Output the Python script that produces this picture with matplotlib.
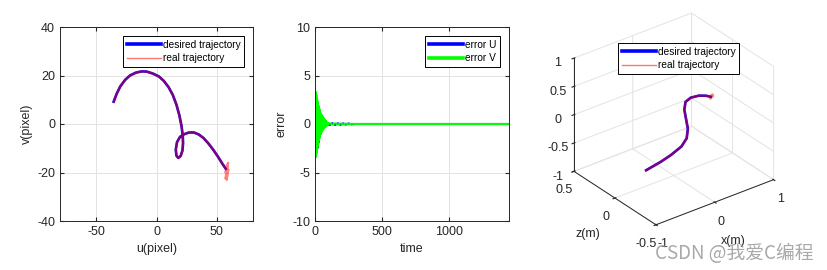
import numpy as np
import matplotlib
matplotlib.use("Agg")
import matplotlib.pyplot as plt
from matplotlib.ticker import FormatStrFormatter

plt.rcParams['font.family'] = ['Liberation Sans', 'DejaVu Sans']
plt.rcParams['font.size'] = 9
plt.rcParams['axes.unicode_minus'] = False

# ---- panel 1: image-plane trajectory (pixel) ----
u_des = [-35.5, -33, -30, -26, -22, -17, -12, -8, -3, 2, 6, 10, 13.5, 16.5, 19, 20.8,
         21.8, 22, 21.5, 20, 18, 16.5, 16, 17, 19.5, 23, 27, 31, 35, 39, 43, 47, 51, 54.5, 57.5]
v_des = [9.2, 12.5, 15.5, 18.2, 20, 21.2, 21.7, 21.6, 20.8, 19.6, 17.8, 15.2, 12, 8, 3.5, -1,
         -5, -8, -11, -13.2, -14, -13, -10.5, -7.5, -5.3, -4.2, -3.5, -3.5, -4.3, -5.8, -8, -10.6,
         -13.5, -16.3, -18.5]
# jitter of the real trajectory around the end point
u_tail = [59.5, 57, 59.8, 57.2, 58.8, 57.6, 59.2, 58.3, 58]
v_tail = [-16, -20, -18.8, -22.5, -17.5, -21, -19.5, -23, -20]
u_real = u_des + u_tail
v_real = v_des + v_tail

# ---- panel 2: tracking error ----
t_early = list(np.arange(0, 102, 2))
err_v_early = [0, 3.4, -3.3, 3.2, -3.4, 3.0, -3.0, 2.7, -2.6, 2.4, -2.3, 2.1, -2.0, 1.9, -1.7,
               1.7, -1.5, 1.5, -1.3, 1.3, -1.1, 1.1, -1.0, 1.0, -0.85, 0.9, -0.75, 0.8, -0.65,
               0.7, -0.55, 0.65, -0.5, 0.55, -0.4, 0.45, -0.35, 0.4, -0.3, 0.35, -0.25, 0.3,
               -0.2, 0.2, -0.15, 0.15, -0.1, 0.1, -0.08, 0.06, 0.0]
err_u_early = [0, -0.5, 0.4, -1.2, 0.8, -1.8, 0.9, -2.1, 0.8, -2.3, 0.7, -2.4, 0.8, -1.9, 0.9,
               -1.6, 0.8, -1.3, 0.7, -1.1, 0.6, -0.9, 0.5, -0.7, 0.45, -0.6, 0.4, -0.5, 0.35,
               -0.4, 0.3, -0.35, 0.25, -0.3, 0.2, -0.25, 0.15, -0.2, 0.12, -0.15, 0.1, -0.12,
               0.08, -0.1, 0.06, -0.08, 0.05, -0.05, 0.03, -0.03, 0.0]
t_late = [110, 130, 150, 170, 190, 210, 230, 250, 270, 300, 1450]
err_v_late = [0.08, -0.06, 0.07, -0.05, 0.06, -0.05, 0.04, -0.03, 0.02, 0.0, 0.0]
err_u_late = [-0.1, 0.08, -0.09, 0.07, -0.08, 0.06, -0.06, 0.05, -0.03, 0.0, 0.0]
t_err = t_early + t_late
err_u = err_u_early + err_u_late
err_v = err_v_early + err_v_late

# ---- panel 3: 3D trajectory (m) ----
x_des = [-0.47, -0.37, -0.22, -0.05, 0.13, 0.22, 0.24, 0.21, 0.18, 0.2, 0.29, 0.43, 0.55, 0.63]
y_des = [0.0] * 14
z_des = [-0.72, -0.7, -0.67, -0.62, -0.54, -0.43, -0.27, -0.09, 0.09, 0.22, 0.26, 0.24, 0.19, 0.14]
x_real = x_des + [0.66, 0.62, 0.67, 0.63]
y_real = y_des + [0.0, 0.0, 0.0, 0.0]
z_real = z_des + [0.17, 0.11, 0.14, 0.16]

GRID = '#e3e3e3'
AXC = '#262626'


def style2d(ax):
    ax.grid(True, color=GRID, linewidth=0.7)
    ax.set_axisbelow(True)
    ax.tick_params(direction='in', length=3, top=True, right=True, colors=AXC, labelsize=9)
    for s in ax.spines.values():
        s.set_color(AXC)
        s.set_linewidth(0.7)


def leg(ax, **kw):
    lg = ax.legend(fontsize=7.3, fancybox=False, framealpha=1, edgecolor='black',
                   handlelength=3.4, handletextpad=0.15, borderpad=0.35, labelspacing=0.35,
                   **kw)
    lg.get_frame().set_linewidth(0.7)
    return lg


def fix_real_handle(lg):
    # thin light-red line for the "real trajectory" entry
    hl = lg.get_lines()
    hl[0].set_linewidth(2.6)
    hl[1].set_linewidth(1.0)
    hl[1].set_alpha(0.55)


fig = plt.figure(figsize=(8.27, 2.70), dpi=100)

ax1 = fig.add_axes([60 / 827, 1 - 221 / 270, 193 / 827, 194 / 270])
ax1.plot(u_des, v_des, color='blue', linewidth=1.9, label='desired trajectory')
ax1.plot(u_real, v_real, color='red', linewidth=1.6, alpha=0.5, label='real trajectory')
ax1.set_xlim(-80, 80)
ax1.set_ylim(-40, 40)
ax1.set_xticks([-50, 0, 50])
ax1.set_yticks([-40, -20, 0, 20, 40])
ax1.set_xlabel('u(pixel)', color=AXC, labelpad=4)
ax1.set_ylabel('v(pixel)', color=AXC, labelpad=3)
style2d(ax1)
fix_real_handle(leg(ax1, loc='upper right', borderaxespad=0.9))

ax2 = fig.add_axes([315 / 827, 1 - 221 / 270, 194 / 827, 194 / 270])
ax2.plot(t_err, err_u, color='blue', linewidth=1.5, label='error U')
ax2.plot(t_err, err_v, color=(0, 1, 0), linewidth=1.5, label='error V')
ax2.set_xlim(0, 1450)
ax2.set_ylim(-10, 10)
ax2.set_xticks([0, 500, 1000])
ax2.set_yticks([-10, -5, 0, 5, 10])
ax2.set_xlabel('time', color=AXC, labelpad=4)
ax2.set_ylabel('error', color=AXC, labelpad=3)
style2d(ax2)
lg2 = leg(ax2, loc='upper right', borderaxespad=0.9)
for h in lg2.get_lines():
    h.set_linewidth(2.6)

ax3 = fig.add_axes([0.6584, 0.118, 0.305, 0.86], projection='3d')
ax3.set_proj_type('ortho')
ax3.view_init(elev=30, azim=-127.5)
ax3.set_box_aspect((1.1, 1.0, 0.97))
ax3.plot(x_des, y_des, z_des, color='blue', linewidth=1.9, label='desired trajectory')
ax3.plot(x_real, y_real, z_real, color='red', linewidth=1.6, alpha=0.5, label='real trajectory')
ax3.set_xlim(-1, 1)
ax3.set_ylim(-0.5, 0.5)
ax3.set_zlim(-1, 1)
ax3.set_xticks([-1, 0, 1])
ax3.set_yticks([-0.5, 0, 0.5])
ax3.set_zticks([-1, -0.5, 0, 0.5, 1])
for a in (ax3.xaxis, ax3.yaxis, ax3.zaxis):
    a.set_major_formatter(FormatStrFormatter('%g'))
    a.set_pane_color((1, 1, 1, 0))
    a.pane.set_edgecolor(GRID)
    a._axinfo['grid'].update(color=GRID, linewidth=0.7)
    a.line.set_color(AXC)
    a.line.set_linewidth(0.7)
ax3.set_xlabel('x(m)', color=AXC, labelpad=-1)
ax3.set_ylabel('z(m)', color=AXC, labelpad=-1)
ax3.tick_params(labelsize=9, colors=AXC, pad=-1)
lg3 = leg(ax3, loc='upper left', bbox_to_anchor=(618 / 827, 1 - 43 / 270),
          bbox_transform=fig.transFigure, borderaxespad=0)
fix_real_handle(lg3)

fig.text(655 / 827, 1 - 259 / 270, 'CSDN @我爱C编程', fontsize=13.5, color='#9a9a9a', alpha=0.85,
         family=['Noto Sans CJK SC', 'DejaVu Sans'])

fig.savefig('out.png', dpi=100)
